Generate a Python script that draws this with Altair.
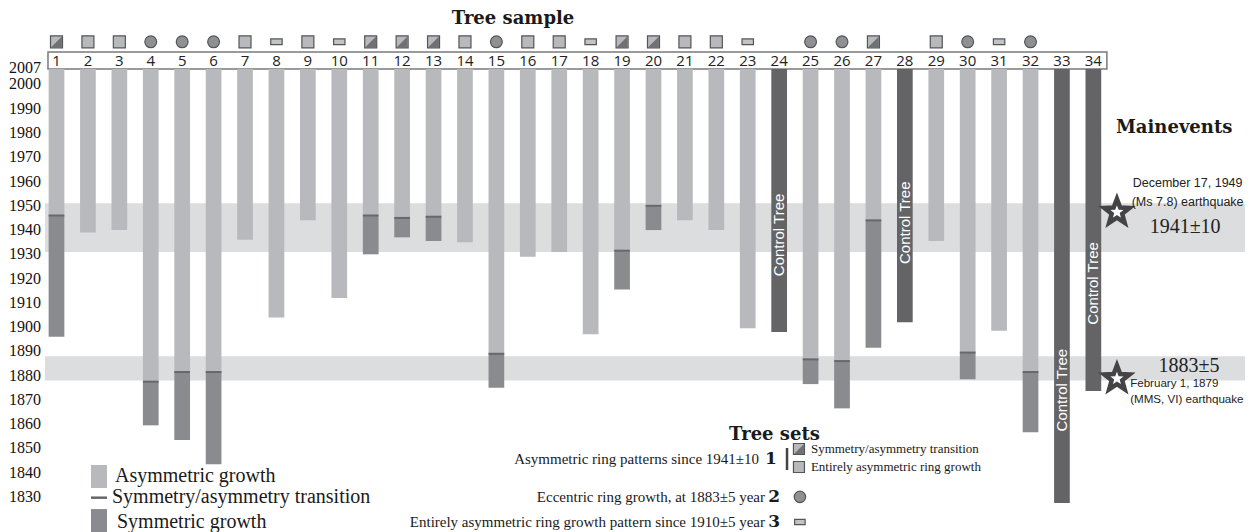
import altair as alt
import pandas as pd

# ---------------- data ----------------
trees = list(range(1, 35))
# year where the light (asymmetric) part of each bar ends (transition year or bar bottom)
asym_end = [1946, 1939, 1940, 1877.5, 1881.5, 1881.5, 1936, 1904, 1944, 1912,
            1946, 1945, 1945.5, 1935, 1889, 1929, 1931, 1897, 1931.5, 1950,
            1944, 1940, 1899.5, None, 1886.7, 1886, 1944, None, 1935.5, 1889.5,
            1898.5, 1881.5, None, None]
# bottom of the dark (symmetric) part, when there is one
sym_end = [1896, None, None, 1859.5, 1853.5, 1843.5, None, None, None, None,
           1930, 1937, 1935.5, None, 1875, None, None, None, 1915.5, 1940,
           None, None, None, None, 1876.5, 1866.5, 1891.5, None, None, 1878.5,
           None, 1856.7, None, None]
control_trees = [24, 28, 33, 34]
control_end = [1898, 1902, 1827.5, 1873.7]
control_label_year = [1938, 1943, 1874, 1918]
icons = ["trans", "sq", "sq", "circ", "circ", "circ", "sq", "bar", "sq", "bar",
         "trans", "trans", "trans", "sq", "circ", "sq", "sq", "bar", "trans", "trans",
         "sq", "sq", "bar", None, "circ", "circ", "trans", None, "sq", "circ",
         "bar", "circ", None, None]
axis_years = [2007, 2000, 1990, 1980, 1970, 1960, 1950, 1940, 1930, 1920,
              1910, 1900, 1890, 1880, 1870, 1860, 1850, 1840, 1830]
bands = [(1931, 1951), (1878, 1888)]

BAR_TOP = 2006.4
HALF = 0.25

LIGHT = "#b8b9bd"
DARK = "#8a8b8f"
CTRL = "#646466"
BAND = "#dcdddf"
TRANS = "#68686c"
EDGE = "#555558"

W, H = 1237, 524
xs = alt.Scale(domain=[-0.5436, 38.826], nice=False, zero=False)
ys = alt.Scale(domain=[1815.54, 2031.53], nice=False, zero=False)

SQ_PATH = "M-1,-1L1,-1L1,1L-1,1Z"
TRI_PATH = "M0.9,-0.9L0.9,0.9L-0.9,0.9Z"
BAR_PATH = "M-1,-0.5L1,-0.5L1,0.5L-1,0.5Z"
STAR_PATH = ("M0,-1L0.247,-0.34L0.951,-0.309L0.399,0.13L0.588,0.809L0,0.42"
             "L-0.588,0.809L-0.399,0.13L-0.951,-0.309L-0.247,-0.34Z")


def X(f="x"):
    return alt.X(f"{f}:Q", scale=xs, axis=None)


def Y(f="y"):
    return alt.Y(f"{f}:Q", scale=ys, axis=None)


def rects(rows, color, **kw):
    return alt.Chart(pd.DataFrame(rows)).mark_rect(color=color, **kw).encode(
        x=X(), x2="x2:Q", y=Y(), y2="y2:Q")


def hrules(rows, color, width):
    return alt.Chart(pd.DataFrame(rows)).mark_rule(color=color, strokeWidth=width).encode(
        x=X(), x2="x2:Q", y=Y())


def texts(rows, **kw):
    kw.setdefault("baseline", "middle")
    return alt.Chart(pd.DataFrame(rows)).mark_text(**kw).encode(
        x=X(), y=Y(), text="text:N")


def points(rows, shape, size, fill, stroke=EDGE, sw=1.2):
    return alt.Chart(pd.DataFrame(rows)).mark_point(
        shape=shape, size=size, filled=True, fill=fill, stroke=stroke,
        strokeWidth=sw, opacity=1, fillOpacity=1, strokeOpacity=1).encode(x=X(), y=Y())


layers = []

# highlighted periods
layers.append(rects([dict(x=0.634, x2=38.9, y=a, y2=b) for a, b in bands], BAND))

# header box with tree numbers
layers.append(alt.Chart(pd.DataFrame([dict(x=0.729, x2=34.43, y=BAR_TOP, y2=2013.4)]))
              .mark_rect(fill="white", stroke="#7a7a7c", strokeWidth=1.5)
              .encode(x=X(), x2="x2:Q", y=Y(), y2="y2:Q"))
layers.append(texts([dict(x=t, y=2009.7, text=str(t)) for t in trees],
                    align="center", font="Open Sans", fontSize=15, color="#222"))

# bars
light_rows = [dict(x=t - HALF, x2=t + HALF, y=BAR_TOP, y2=a)
              for t, a in zip(trees, asym_end) if a is not None]
dark_rows = [dict(x=t - HALF, x2=t + HALF, y=a, y2=s)
             for t, a, s in zip(trees, asym_end, sym_end) if s is not None]
ctrl_rows = [dict(x=t - HALF, x2=t + HALF, y=BAR_TOP, y2=e)
             for t, e in zip(control_trees, control_end)]
trans_rows = [dict(x=t - HALF, x2=t + HALF, y=a)
              for t, a, s in zip(trees, asym_end, sym_end) if s is not None]
layers.append(rects(light_rows, LIGHT))
layers.append(rects(dark_rows, DARK))
layers.append(rects(ctrl_rows, CTRL))
layers.append(hrules(trans_rows, TRANS, 2))
layers.append(texts([dict(x=t, y=y, text="Control Tree")
                     for t, y in zip(control_trees, control_label_year)],
                    align="center", angle=270, font="Liberation Sans", fontSize=15,
                    color="white"))

# icons above the header box
ICON_Y = 2017.6
sq_rows = [dict(x=t, y=ICON_Y) for t, i in zip(trees, icons) if i in ("sq", "trans")]
tr_rows = [dict(x=t, y=ICON_Y) for t, i in zip(trees, icons) if i == "trans"]
ci_rows = [dict(x=t, y=ICON_Y) for t, i in zip(trees, icons) if i == "circ"]
ba_rows = [dict(x=t, y=ICON_Y) for t, i in zip(trees, icons) if i == "bar"]
layers.append(points(sq_rows, SQ_PATH, 144, LIGHT))
layers.append(points(tr_rows, TRI_PATH, 144, "#707175", stroke="#707175", sw=0))
layers.append(points(ci_rows, "circle", 140, "#8f9094"))
layers.append(points(ba_rows, BAR_PATH, 130, "#c2c3c6"))

# y labels
layers.append(texts([dict(x=0.507, y=yr, text=str(yr)) for yr in axis_years],
                    align="right", font="Liberation Serif", fontSize=16, color="#111"))

# titles
layers.append(texts([dict(x=15.53, y=2026.8, text="Tree sample"),
                     dict(x=36.57, y=1982.1, text="Mainevents"),
                     dict(x=23.85, y=1855.5, text="Tree sets")],
                    align="center", font="DejaVu Serif", fontWeight="bold",
                    fontSize=18, color="#1a1a1a"))

# main events
layers.append(points([dict(x=34.75, y=1947.4), dict(x=34.75, y=1878.8)],
                     STAR_PATH, 700, "white", stroke="#444446", sw=4.5))
layers.append(texts([dict(x=37.0, y=1959.4, text="December 17, 1949"),
                     dict(x=37.0, y=1951.6, text="(Ms 7.8) earthquake")],
                    align="center", font="Liberation Sans", fontSize=12.5, color="#222"))
layers.append(texts([dict(x=35.17, y=1876.5, text="February 1, 1879"),
                     dict(x=35.17, y=1869.9, text="(MMS, VI) earthquake")],
                    align="left", font="Liberation Sans", fontSize=11.6, color="#222"))
layers.append(texts([dict(x=36.92, y=1941.3, text="1941±10"),
                     dict(x=37.04, y=1883.8, text="1883±5")],
                    align="center", font="Liberation Serif", fontSize=20, color="#222"))

# bottom-left legend
layers.append(rects([dict(x=2.098, x2=2.607, y=1843.16, y2=1833.68)], LIGHT))
layers.append(rects([dict(x=2.098, x2=2.607, y=1825.0, y2=1815.5)], DARK))
layers.append(hrules([dict(x=2.098, x2=2.607, y=1829.68)], TRANS, 2.5))
layers.append(texts([dict(x=2.862, y=1838.6, text="Asymmetric growth"),
                     dict(x=2.766, y=1829.97, text="Symmetry/asymmetry transition"),
                     dict(x=2.925, y=1819.6, text="Symmetric growth")],
                    align="left", font="Liberation Serif", fontSize=20, color="#1a1a1a"))

# tree sets legend
layers.append(texts([dict(x=23.36, y=1845.63, text="Asymmetric ring patterns since 1941±10"),
                     dict(x=23.55, y=1830.0, text="Eccentric ring growth, at 1883±5 year"),
                     dict(x=23.55, y=1819.66,
                          text="Entirely asymmetric ring growth pattern since 1910±5 year")],
                    align="right", font="Liberation Serif", fontSize=15, color="#1a1a1a"))
layers.append(texts([dict(x=23.74, y=1845.63, text="1"),
                     dict(x=23.84, y=1830.0, text="2"),
                     dict(x=23.84, y=1819.66, text="3")],
                    align="center", font="DejaVu Serif", fontWeight="bold",
                    fontSize=17, color="#1a1a1a"))
layers.append(alt.Chart(pd.DataFrame([dict(x=24.25, y=1850.16, y2=1841.1)]))
              .mark_rule(color="#444", strokeWidth=2.5)
              .encode(x=X(), y=Y(), y2="y2:Q"))
layers.append(points([dict(x=24.63, y=1849.75), dict(x=24.63, y=1842.33)],
                     SQ_PATH, 121, LIGHT))
layers.append(points([dict(x=24.63, y=1849.75)], TRI_PATH, 121, "#707175",
                     stroke="#707175", sw=0))
layers.append(points([dict(x=24.66, y=1830.0)], "circle", 130, "#8f9094"))
layers.append(points([dict(x=24.66, y=1819.66)], BAR_PATH, 110, "#c2c3c6"))
layers.append(texts([dict(x=25.01, y=1849.75, text="Symmetry/asymmetry transition"),
                     dict(x=25.01, y=1842.33, text="Entirely asymmetric ring growth")],
                    align="left", font="Liberation Serif", fontSize=13, color="#1a1a1a"))

chart = (alt.layer(*layers)
         .properties(width=W, height=H, padding=0, autosize=alt.AutoSizeParams(type="none"))
         .configure_view(stroke=None))

chart.save("out.html", embed_options={"renderer": "svg", "actions": False})
